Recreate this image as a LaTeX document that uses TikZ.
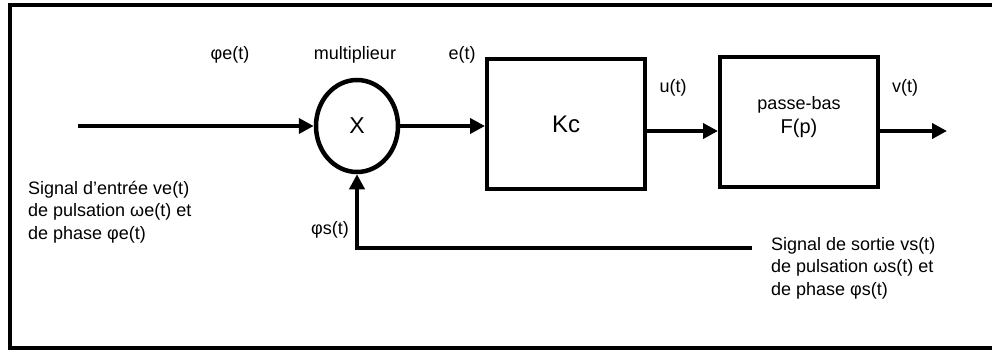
\documentclass[tikz,border=0pt]{standalone}
\usepackage{fontspec}
\setmainfont{Liberation Sans}
\usetikzlibrary{arrows.meta,shapes.geometric}
\tikzset{
  bloc/.style={draw, line width=4pt, minimum width=158pt, minimum height=130pt, inner sep=0pt, align=center},
  mult/.style={draw, ellipse, line width=4.5pt, minimum width=82pt, minimum height=92pt, inner sep=0pt},
  fleche/.style={line width=4pt, -{Triangle[length=15pt,width=15pt]}},
  etiq/.style={inner sep=0pt, font=\fontsize{18}{22}\selectfont},
  texte/.style={inner sep=0pt, align=left, font=\fontsize{18}{22.5}\selectfont}
}
\begin{document}
\begin{tikzpicture}[x=1pt,y=-1pt]
  \useasboundingbox (0,0) rectangle (998,351);
  % Cadre ouvert a droite
  \draw[line width=4pt] (992,5) -- (10,5) -- (10,348) -- (992,348);
  % Blocs
  \node[mult] (mult) at (357,126) {\fontsize{23}{24}\selectfont X};
  \node[bloc] (kc) at (566,124) {\fontsize{24}{26}\selectfont Kc};
  \node[bloc] (fp) at (799,122) {\fontsize{18}{21}\selectfont passe-bas\\[5pt] \fontsize{20}{22}\selectfont F(p)\\[2pt]};
  % Liaisons
  \coordinate (entree) at (78,126);
  \coordinate (sortie) at (947,131);
  \coordinate (retour) at (752,248);
  \draw[fleche] (entree) -- (mult.west);
  \draw[fleche] (mult.east) -- (mult.east -| kc.west);
  \draw[fleche] ([yshift=-7pt]kc.east) -- ([yshift=-7pt]kc.east -| fp.west);
  \draw[fleche] (sortie -| fp.east) -- (sortie);
  \draw[fleche] (retour) -| (mult.south);
  % Etiquettes
  \node[etiq] (lphie) at (230,55) {φe(t)};
  \node[etiq] (lmult) at (355,55) {multiplieur};
  \node[etiq] (le) at (462,55) {e(t)};
  \node[etiq] (lu) at (673,88) {u(t)};
  \node[etiq] (lv) at (905,88) {v(t)};
  \node[etiq] (lphis) at (330,230) {φs(t)};
  \node[texte, anchor=west] (tentree) at (28,212) {Signal d'entrée ve(t)\\de pulsation ωe(t) et\\de phase φe(t)};
  \node[texte, anchor=west] (tsortie) at (771,268) {Signal de sortie vs(t)\\de pulsation ωs(t) et\\de phase φs(t)};
\end{tikzpicture}
\end{document}
